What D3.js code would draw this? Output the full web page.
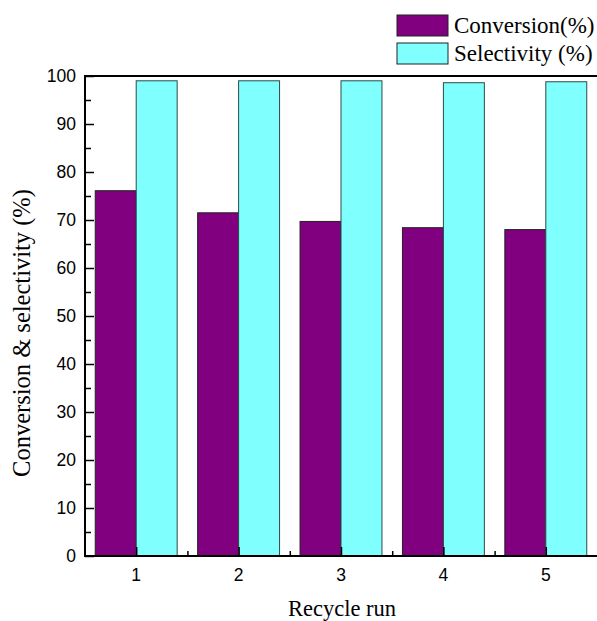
<!DOCTYPE html>
<html>
<head>
<meta charset="utf-8">
<script src="https://cdn.jsdelivr.net/npm/d3@7"></script>
<style>
  body { margin: 0; background: #fff; }
  svg { display: block; }
</style>
</head>
<body>
<script>
// recycle runs and the two measured series
var runs = [1, 2, 3, 4, 5];
var conversion = [76.1, 71.5, 69.7, 68.4, 68.0];
var selectivity = [99.0, 99.0, 99.0, 98.6, 98.8];
var yTicks = [0, 10, 20, 30, 40, 50, 60, 70, 80, 90, 100];
var seriesNames = ["Conversion(%)", "Selectivity (%)"];
var seriesColors = ["#800080", "#80FFFF"];

(function(){

var width = 597, height = 621;
var plotLeft = 85, plotRight = 597, plotTop = 76, plotBottom = 556;

var svg = d3.select("body").append("svg")
    .attr("width", width)
    .attr("height", height);

var x = d3.scaleLinear().domain([0.5, 5.5]).range([plotLeft, plotRight]);
var y = d3.scaleLinear().domain([0, 100]).range([plotBottom, plotTop]);
var barW = (x(2) - x(1)) * 0.4;

// bars, conversion left of the tick, selectivity right of it
svg.selectAll(".conv").data(runs).enter().append("rect")
    .attr("class", "conv")
    .attr("x", function(d){ return x(d) - barW; })
    .attr("y", function(d, i){ return y(conversion[i]); })
    .attr("width", barW)
    .attr("height", function(d, i){ return y(0) - y(conversion[i]); })
    .attr("fill", seriesColors[0])
    .attr("stroke", "#222")
    .attr("stroke-width", 1);

svg.selectAll(".sel").data(runs).enter().append("rect")
    .attr("class", "sel")
    .attr("x", function(d){ return x(d); })
    .attr("y", function(d, i){ return y(selectivity[i]); })
    .attr("width", barW)
    .attr("height", function(d, i){ return y(0) - y(selectivity[i]); })
    .attr("fill", seriesColors[1])
    .attr("stroke", "#2a4a4a")
    .attr("stroke-width", 1);

function styleTicks(g){
  g.select(".domain").remove();
  g.selectAll("line").attr("stroke", "#000").attr("stroke-width", 1.5);
}

// y axis, ticks pointing inward
svg.append("g")
    .attr("transform", "translate(" + plotLeft + ",0)")
    .call(d3.axisRight(y).tickValues(yTicks).tickSize(9).tickFormat(""))
    .call(styleTicks);
svg.append("g")
    .attr("transform", "translate(" + plotLeft + ",0)")
    .call(d3.axisRight(y).tickValues(d3.range(5, 100, 10)).tickSize(6).tickFormat(""))
    .call(styleTicks);

svg.selectAll(".ylab").data(yTicks).enter().append("text")
    .attr("class", "ylab")
    .attr("x", plotLeft - 9)
    .attr("y", function(d){ return y(d) + 6; })
    .attr("text-anchor", "end")
    .attr("font-family", "Liberation Sans, Arial, sans-serif")
    .attr("font-size", 17.5)
    .text(function(d){ return d; });

// x axis, ticks pointing up
svg.append("g")
    .attr("transform", "translate(0," + plotBottom + ")")
    .call(d3.axisTop(x).tickValues(runs).tickSize(9).tickFormat(""))
    .call(styleTicks);
svg.append("g")
    .attr("transform", "translate(0," + plotBottom + ")")
    .call(d3.axisTop(x).tickValues([1.5, 2.5, 3.5, 4.5]).tickSize(5).tickFormat(""))
    .call(styleTicks);

svg.selectAll(".xlab").data(runs).enter().append("text")
    .attr("class", "xlab")
    .attr("x", function(d){ return x(d); })
    .attr("y", 581)
    .attr("text-anchor", "middle")
    .attr("font-family", "Liberation Sans, Arial, sans-serif")
    .attr("font-size", 17.5)
    .text(function(d){ return d; });

// frame lines
svg.append("line").attr("x1", plotLeft).attr("x2", plotRight).attr("y1", plotBottom).attr("y2", plotBottom)
    .attr("stroke", "#000").attr("stroke-width", 2);
svg.append("line").attr("x1", plotLeft).attr("x2", plotRight).attr("y1", plotTop).attr("y2", plotTop)
    .attr("stroke", "#000").attr("stroke-width", 2);
svg.append("line").attr("x1", plotLeft).attr("x2", plotLeft).attr("y1", plotTop - 1).attr("y2", plotBottom + 1)
    .attr("stroke", "#000").attr("stroke-width", 2);

// axis titles
svg.append("text")
    .attr("x", 342)
    .attr("y", 616)
    .attr("text-anchor", "middle")
    .attr("font-family", "Liberation Serif, Times New Roman, serif")
    .attr("font-size", 22.5)
    .text("Recycle run");

svg.append("text")
    .attr("transform", "translate(30,333) rotate(-90)")
    .attr("text-anchor", "middle")
    .attr("font-family", "Liberation Serif, Times New Roman, serif")
    .attr("font-size", 24.5)
    .text("Conversion & selectivity (%)");

// legend
var legend = svg.selectAll(".legend").data(seriesNames).enter().append("g")
    .attr("class", "legend")
    .attr("transform", function(d, i){ return "translate(397," + (15 + i * 28) + ")"; });
legend.append("rect")
    .attr("width", 51)
    .attr("height", 21)
    .attr("fill", function(d, i){ return seriesColors[i]; })
    .attr("stroke", "#222")
    .attr("stroke-width", 1);
legend.append("text")
    .attr("x", 57)
    .attr("y", 18)
    .attr("font-family", "Liberation Serif, Times New Roman, serif")
    .attr("font-size", 23)
    .text(function(d){ return d; });

})();
</script>
</body>
</html>
